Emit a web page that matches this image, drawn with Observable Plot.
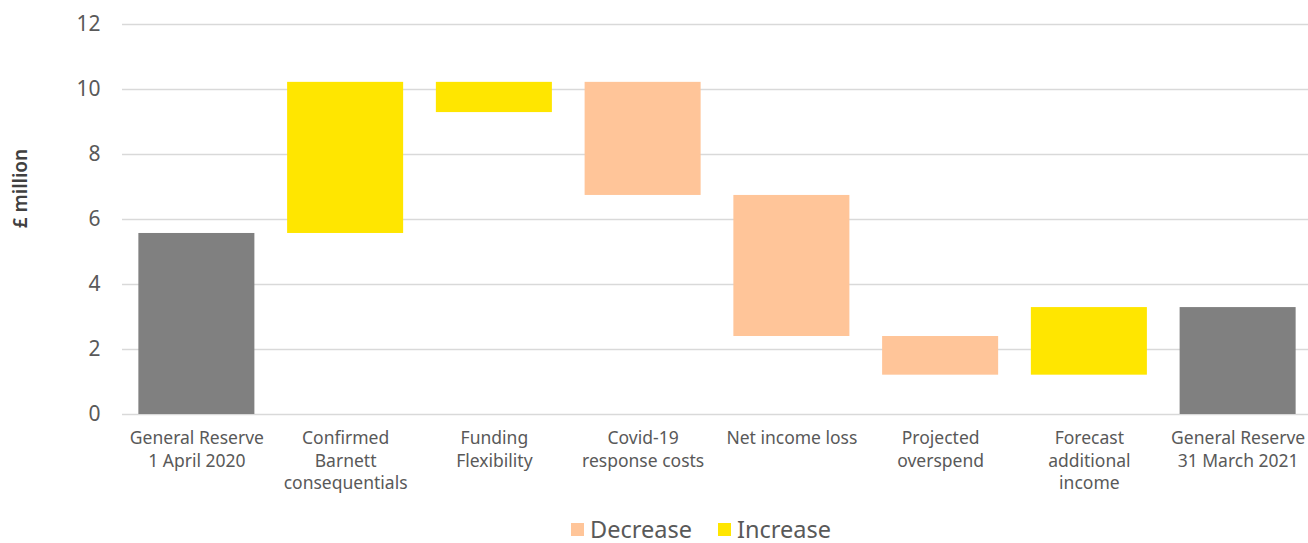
<!DOCTYPE html>
<html>
<head>
<meta charset="utf-8">
<script src="https://cdn.jsdelivr.net/npm/d3@7"></script>
<script src="https://cdn.jsdelivr.net/npm/@observablehq/plot@0.6"></script>
<style>
  html, body { margin: 0; padding: 0; background: #fff; overflow: hidden; }
  #chart { width: 1308px; }
  .legend { display: flex; justify-content: center; align-items: center; gap: 26px; font-family: "Noto Sans", sans-serif; font-size: 23.5px; line-height: 26px; color: #595959; height: 26px; margin-top: 16px; margin-left: 94px; }
  .legend span.item { display: flex; align-items: center; }
  .legend i { display: inline-block; width: 13px; height: 13px; margin-right: 6px; }
</style>
</head>
<body>
<div id="chart"></div>
<script>
const categories = [
  "General Reserve\n1 April 2020",
  "Confirmed\nBarnett\nconsequentials",
  "Funding\nFlexibility",
  "Covid-19\nresponse costs",
  "Net income loss",
  "Projected\noverspend",
  "Forecast\nadditional\nincome",
  "General Reserve\n31 March 2021"
];
const starts = [0, 5.57, 9.29, 6.74, 2.40, 1.21, 1.21, 0];
const ends   = [5.57, 10.22, 10.22, 10.22, 6.74, 2.40, 3.29, 3.29];
const kinds  = ["Total", "Increase", "Increase", "Decrease", "Decrease", "Decrease", "Increase", "Total"];
const yTicks = [0, 2, 4, 6, 8, 10, 12];
const legendItems = ["Decrease", "Increase"];

const colors = {Total: "#808080", Increase: "#FFE600", Decrease: "#FFC599"};
const rows = categories.map((c, i) => ({category: c, y1: starts[i], y2: ends[i], kind: kinds[i]}));

const chart = Plot.plot({
  width: 1308,
  height: 500,
  marginLeft: 122,
  marginRight: 0,
  marginTop: 24,
  marginBottom: 86,
  style: {fontFamily: "Noto Sans, sans-serif", color: "#595959", background: "#fff"},
  x: {domain: categories, range: [122, 1312], round: false, paddingInner: 0.22, paddingOuter: 0.11, label: null},
  y: {domain: [0, 12], label: null},
  marks: [
    Plot.ruleY(yTicks, {stroke: "#d9d9d9", strokeWidth: 1.5}),
    Plot.barY(rows, {x: "category", y1: "y1", y2: "y2", fill: d => colors[d.kind]}),
    Plot.axisY({ticks: yTicks, tickSize: 0, tickPadding: 22, fontSize: 21, label: null}),
    Plot.axisX({tickSize: 0, tickPadding: 13.5, fontSize: 17.5, lineHeight: 1.29, label: null}),
    Plot.text(["£ million"], {frameAnchor: "left", textAnchor: "middle", dx: -102, dy: -31, rotate: -90, fontSize: 19, fontWeight: 600, fill: "#404040"})
  ]
});
document.getElementById("chart").appendChild(chart);

const legend = document.createElement("div");
legend.className = "legend";
legendItems.forEach(k => {
  const s = document.createElement("span");
  s.className = "item";
  const sw = document.createElement("i");
  sw.style.background = colors[k];
  s.appendChild(sw);
  s.appendChild(document.createTextNode(k));
  legend.appendChild(s);
});
document.body.appendChild(legend);
</script>
</body>
</html>
